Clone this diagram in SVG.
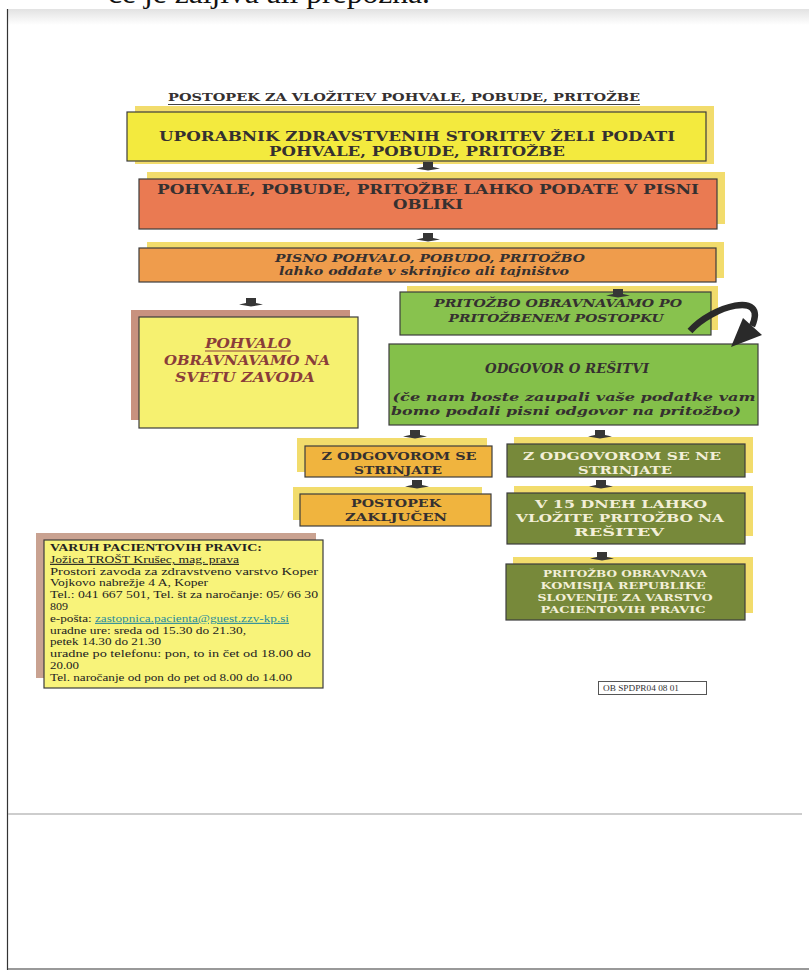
<svg xmlns="http://www.w3.org/2000/svg" width="809" height="972" viewBox="0 0 809 972">
<defs>
<style>
.bx{stroke:#3c3c3c;stroke-width:1.2}
.sy{fill:#f2dc6c}
.sp{fill:#c8927f}
.t{font-family:"DejaVu Serif",serif;font-weight:bold;fill:#353030;text-anchor:middle}
.i{font-style:italic}
.cr{fill:#f3efd8}
.br{fill:#8a3d3a}
.inf{font-family:"Liberation Serif",serif;font-size:11.2px;fill:#222}
.ar{fill:#363636}
</style>
<linearGradient id="topg" x1="0" y1="0" x2="0" y2="1">
<stop offset="0" stop-color="#e2e2e2"/><stop offset="1" stop-color="#ffffff"/>
</linearGradient>
</defs>
<rect width="809" height="972" fill="#fff"/>
<text x="108" y="3" font-family="Liberation Serif, serif" font-size="30" fill="#111" textLength="322" lengthAdjust="spacingAndGlyphs">če je žaljiva ali prepozna.</text>
<rect x="7" y="9" width="802" height="963" fill="#fff"/>
<rect x="7" y="9" width="802" height="16" fill="url(#topg)"/>
<line x1="7.5" y1="9" x2="7.5" y2="970" stroke="#333" stroke-width="1.2"/>
<line x1="8" y1="814" x2="802" y2="814" stroke="#bdbdbd" stroke-width="1.5"/>
<line x1="8" y1="969" x2="809" y2="969" stroke="#777" stroke-width="1.5"/>

<g id="title">
<text class="t" x="404" y="101" font-size="11.5" textLength="472" lengthAdjust="spacingAndGlyphs">POSTOPEK ZA VLOŽITEV POHVALE, POBUDE, PRITOŽBE</text>
<line x1="168" y1="104.5" x2="640" y2="104.5" stroke="#444" stroke-width="1"/>
</g>

<g id="n1">
<rect class="sy" x="135" y="106" width="579" height="58"/>
<rect class="bx" x="127" y="112" width="579" height="49" fill="#f3ea3e"/>
<text class="t" x="417" y="141" font-size="12.5" textLength="516" lengthAdjust="spacingAndGlyphs">UPORABNIK ZDRAVSTVENIH STORITEV ŽELI PODATI</text>
<text class="t" x="417" y="156" font-size="12.5" textLength="296" lengthAdjust="spacingAndGlyphs">POHVALE, POBUDE, PRITOŽBE</text>
</g>

<g id="n2">
<rect class="sy" x="147" y="172" width="578" height="52"/>
<rect class="bx" x="139" y="179" width="578" height="50" fill="#ea7a52"/>
<text class="t" x="428" y="194" font-size="12.5" textLength="542" lengthAdjust="spacingAndGlyphs">POHVALE, POBUDE, PRITOŽBE LAHKO PODATE V PISNI</text>
<text class="t" x="428" y="209" font-size="12.5" textLength="70" lengthAdjust="spacingAndGlyphs">OBLIKI</text>
</g>

<g id="n3">
<rect class="sy" x="147" y="242" width="577" height="36"/>
<rect class="bx" x="139" y="248" width="577" height="34" fill="#ef9c4c"/>
<text class="t i" x="430" y="262" font-size="11" textLength="310" lengthAdjust="spacingAndGlyphs">PISNO POHVALO, POBUDO, PRITOŽBO</text>
<text class="t i" x="424" y="275" font-size="11" textLength="290" lengthAdjust="spacingAndGlyphs">lahko oddate v skrinjico ali tajništvo</text>
</g>

<g id="n4">
<rect class="sy" x="407" y="286" width="311" height="44"/>
<rect class="bx" x="400" y="292" width="311" height="43" fill="#88c24e"/>
<text class="t i" x="558" y="307" font-size="11" textLength="248" lengthAdjust="spacingAndGlyphs">PRITOŽBO OBRAVNAVAMO PO</text>
<text class="t i" x="556" y="322" font-size="11" textLength="215" lengthAdjust="spacingAndGlyphs">PRITOŽBENEM POSTOPKU</text>
</g>

<g id="n5">
<rect class="sp" x="131" y="310" width="219" height="110"/>
<rect class="bx" x="139" y="317" width="219" height="111" fill="#f6f170"/>
<text class="t i br" x="248" y="348" font-size="13.5" textLength="86" lengthAdjust="spacingAndGlyphs">POHVALO</text>
<line x1="205" y1="351" x2="291" y2="351" stroke="#8a3d3a" stroke-width="1"/>
<text class="t i br" x="247" y="365" font-size="13.5" textLength="166" lengthAdjust="spacingAndGlyphs">OBRAVNAVAMO NA</text>
<text class="t i br" x="245" y="382" font-size="13.5" textLength="140" lengthAdjust="spacingAndGlyphs">SVETU ZAVODA</text>
</g>

<g id="n6">
<rect class="bx" x="389" y="344" width="369" height="81" fill="#84c04a"/>
<text class="t i" x="567" y="373" font-size="12" textLength="164" lengthAdjust="spacingAndGlyphs">ODGOVOR O REŠITVI</text>
<text class="t i" x="574" y="401" font-size="11" textLength="363" lengthAdjust="spacingAndGlyphs">(če nam boste zaupali vaše podatke vam</text>
<text class="t i" x="566" y="415" font-size="11" textLength="350" lengthAdjust="spacingAndGlyphs">bomo podali  pisni odgovor na pritožbo)</text>
</g>

<g id="n7">
<rect class="sy" x="297" y="438" width="190" height="34"/>
<rect class="bx" x="305" y="446" width="187" height="31" fill="#f0b43e"/>
<text class="t" x="399" y="460" font-size="11" textLength="155" lengthAdjust="spacingAndGlyphs">Z ODGOVOROM SE</text>
<text class="t" x="398" y="474" font-size="11" textLength="88" lengthAdjust="spacingAndGlyphs">STRINJATE</text>
</g>

<g id="n8">
<rect class="sy" x="514" y="437" width="239" height="36"/>
<rect class="bx" x="507" y="444" width="238" height="33" fill="#77893a"/>
<text class="t cr" x="622" y="460" font-size="11" textLength="198" lengthAdjust="spacingAndGlyphs">Z ODGOVOROM SE NE</text>
<text class="t cr" x="625" y="474" font-size="11" textLength="94" lengthAdjust="spacingAndGlyphs">STRINJATE</text>
</g>

<g id="n9">
<rect class="sy" x="293" y="487" width="189" height="33"/>
<rect class="bx" x="300" y="494" width="191" height="32" fill="#f0b43e"/>
<text class="t" x="396" y="507" font-size="11" textLength="90" lengthAdjust="spacingAndGlyphs">POSTOPEK</text>
<text class="t" x="396" y="521" font-size="11" textLength="102" lengthAdjust="spacingAndGlyphs">ZAKLJUČEN</text>
</g>

<g id="n10">
<rect class="sy" x="514" y="486" width="239" height="50"/>
<rect class="bx" x="507" y="493" width="238" height="51" fill="#77893a"/>
<text class="t cr" x="621" y="508" font-size="11" textLength="172" lengthAdjust="spacingAndGlyphs">V 15 DNEH LAHKO</text>
<text class="t cr" x="620" y="522" font-size="11" textLength="208" lengthAdjust="spacingAndGlyphs">VLOŽITE PRITOŽBO NA</text>
<text class="t cr" x="619" y="536" font-size="11" textLength="90" lengthAdjust="spacingAndGlyphs">REŠITEV</text>
</g>

<g id="n11">
<rect class="sy" x="513" y="557" width="240" height="56"/>
<rect class="bx" x="506" y="564" width="239" height="56" fill="#77893a"/>
<text class="t cr" x="625" y="577" font-size="9.5" textLength="164" lengthAdjust="spacingAndGlyphs">PRITOŽBO OBRAVNAVA</text>
<text class="t cr" x="623" y="589" font-size="9.5" textLength="165" lengthAdjust="spacingAndGlyphs">KOMISIJA REPUBLIKE</text>
<text class="t cr" x="625" y="601" font-size="9.5" textLength="175" lengthAdjust="spacingAndGlyphs">SLOVENIJE ZA VARSTVO</text>
<text class="t cr" x="623" y="613" font-size="9.5" textLength="165" lengthAdjust="spacingAndGlyphs">PACIENTOVIH PRAVIC</text>
</g>

<g id="info">
<rect fill="#c9a291" x="36" y="533" width="280" height="145"/>
<rect class="bx" x="44" y="540" width="279" height="148" fill="#f8f37a"/>
<text class="inf" x="50" y="551" font-weight="bold" textLength="212" lengthAdjust="spacingAndGlyphs">VARUH PACIENTOVIH PRAVIC:</text>
<text class="inf" x="50" y="562.8" text-decoration="underline" textLength="189" lengthAdjust="spacingAndGlyphs">Jožica TROŠT Krušec, mag.  prava</text>
<text class="inf" x="50" y="574.6" textLength="268" lengthAdjust="spacingAndGlyphs">Prostori zavoda za zdravstveno varstvo  Koper</text>
<text class="inf" x="50" y="586.4" textLength="158" lengthAdjust="spacingAndGlyphs">Vojkovo nabrežje 4 A, Koper</text>
<text class="inf" x="50" y="598.2" textLength="268" lengthAdjust="spacingAndGlyphs">Tel.:  041 667 501, Tel. št za naročanje: 05/ 66 30</text>
<text class="inf" x="50" y="610" textLength="18" lengthAdjust="spacingAndGlyphs">809</text>
<text class="inf" x="50" y="621.8" textLength="239" lengthAdjust="spacingAndGlyphs">e-pošta: <tspan fill="#2b8c9c" text-decoration="underline">zastopnica.pacienta@guest.zzv-kp.si</tspan></text>
<text class="inf" x="50" y="633.6" textLength="196" lengthAdjust="spacingAndGlyphs">uradne ure: sreda od 15.30 do 21.30,</text>
<text class="inf" x="50" y="645.4" textLength="111" lengthAdjust="spacingAndGlyphs">petek 14.30 do 21.30</text>
<text class="inf" x="50" y="657.2" textLength="261" lengthAdjust="spacingAndGlyphs">uradne po telefonu: pon, to in čet od 18.00 do</text>
<text class="inf" x="50" y="669" textLength="29" lengthAdjust="spacingAndGlyphs">20.00</text>
<text class="inf" x="50" y="680.8" textLength="242" lengthAdjust="spacingAndGlyphs">Tel. naročanje od pon do pet od 8.00 do 14.00</text>
</g>

<g id="ref">
<rect x="598.5" y="681.5" width="108" height="13" fill="#fff" stroke="#555" stroke-width="1"/>
<text x="603" y="691" font-family="Liberation Serif, serif" font-size="7.5" fill="#333" textLength="76" lengthAdjust="spacingAndGlyphs">OB SPDPR04 08 01</text>
</g>

<g id="connectors">
<path class="ar" d="M423,162 h10 v5 l7,1.5 l-12,2 l-12,-2 l7,-1.5 z"/>
<path class="ar" d="M423,233 h10 v5 l7,1.5 l-12,2 l-12,-2 l7,-1.5 z"/>
<path class="ar" d="M246,298 h10 v5 l7,1.5 l-12,2 l-12,-2 l7,-1.5 z"/>
<path class="ar" d="M613,289 h10 v5 l7,1.5 l-12,2 l-12,-2 l7,-1.5 z"/>
<path class="ar" d="M410,430 h10 v5 l7,1.5 l-12,2 l-12,-2 l7,-1.5 z"/>
<path class="ar" d="M595,430 h10 v5 l7,1.5 l-12,2 l-12,-2 l7,-1.5 z"/>
<path class="ar" d="M412,480 h10 v5 l7,1.5 l-12,2 l-12,-2 l7,-1.5 z"/>
<path class="ar" d="M596,480 h10 v5 l7,1.5 l-12,2 l-12,-2 l7,-1.5 z"/>
<path class="ar" d="M597,552 h10 v5 l7,1.5 l-12,2 l-12,-2 l7,-1.5 z"/>
<path d="M690,331 C712,306 768,290 752,326" fill="none" stroke="#2a2a2a" stroke-width="6.5"/>
<polygon points="762,335 731,347 743,318" fill="#2a2a2a"/>
</g>
</svg>
